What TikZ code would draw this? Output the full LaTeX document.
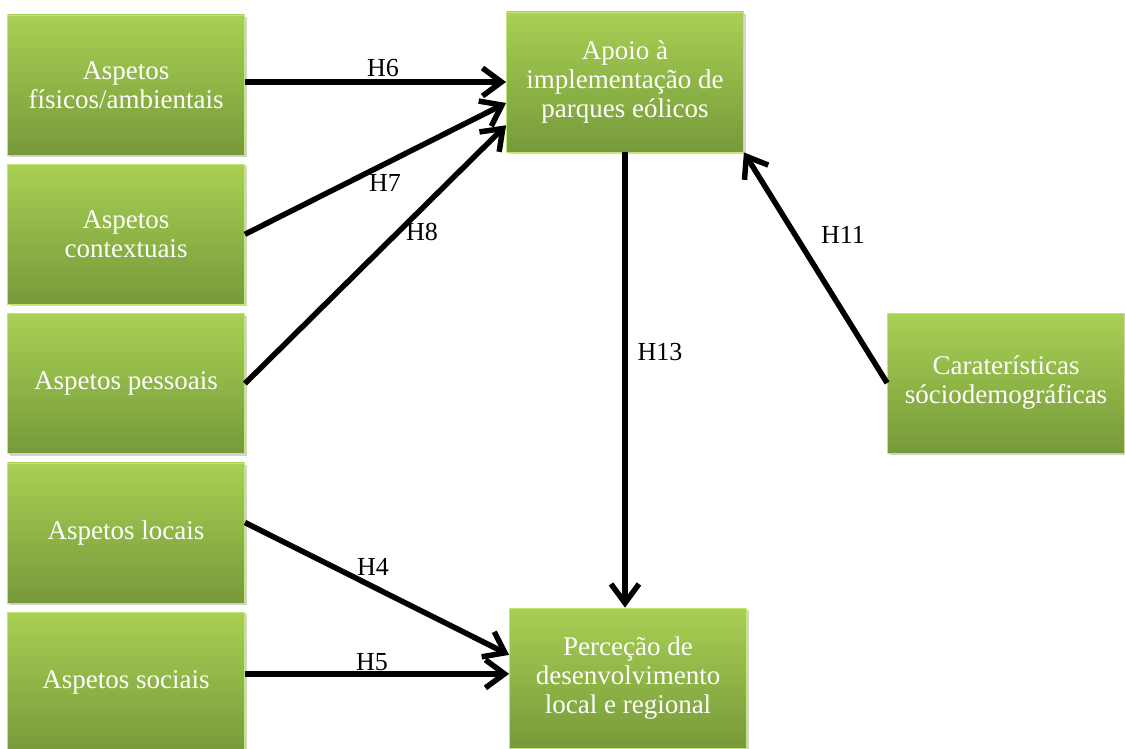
\documentclass[tikz,border=0pt]{standalone}
\usepackage{fontspec}
\setmainfont{Liberation Serif}
\usetikzlibrary{arrows.meta, shadows}
\usetikzlibrary{positioning}
\definecolor{boxtop}{RGB}{168,208,84}
\definecolor{boxbottom}{RGB}{118,154,58}
\definecolor{boxedge}{RGB}{196,228,120}
\tikzstyle{greenbox}=[rectangle, draw=boxedge, line width=0.8pt,
					top color=boxtop, bottom color=boxbottom, text=white,
					minimum width=237pt, minimum height=140pt, align=center,
					font=\fontsize{27}{29}\selectfont,
					drop shadow={shadow xshift=2pt, shadow yshift=-2pt, opacity=0.35}]

\begin{document}
\begin{tikzpicture}[x=1pt, y=-1pt,
 >={Straight Barb[length=19pt,width=28pt]},
 hyp/.style={->, line width=5.5pt},
 hlabel/.style={font=\fontsize{26}{28}\selectfont, inner sep=0pt}
 ]
 \useasboundingbox (0,0) rectangle (1125,749);

 %Nodes
 \node[greenbox]      (fisicos_node)  at (126,85) {Aspetos\\físicos/ambientais};
 \node[greenbox]      (contexto_node)   [below=8.5pt of fisicos_node] {Aspetos\\contextuais};
 \node[greenbox]      (pessoais_node)   [below=8.5pt of contexto_node] {Aspetos pessoais};
 \node[greenbox]      (locais_node)     [below=8.5pt of pessoais_node] {Aspetos locais};
 \node[greenbox]      (sociais_node)    [below=8.5pt of locais_node] {Aspetos sociais};

 \node[greenbox]      (apoio_node)    at (625,82) {Apoio à\\implementação de\\parques eólicos};
 \node[greenbox]      (percecao_node) at (628,678) {Perceção de\\desenvolvimento\\local e regional};
 \node[greenbox]      (carat_node)    at (1006,383) {Caraterísticas\\sóciodemográficas};

 %Lines
 \draw[hyp] (apoio_node.west -| fisicos_node.east) -- (apoio_node.west);
 \draw[hyp] (contexto_node.east) -- (apoio_node.190);
 \draw[hyp] (pessoais_node.east) -- (apoio_node.200);
 \draw[hyp] (carat_node.west) -- (apoio_node.south east);
 \draw[hyp] (apoio_node.south) -- (apoio_node.south |- percecao_node.north);
 \draw[hyp] (locais_node.5) -- (percecao_node.169);
 \draw[hyp] (percecao_node.178 -| sociais_node.east) -- (percecao_node.178);

 %Labels
 \node[hlabel] (h6_label)  at (383,68)  {H6};
 \node[hlabel] (h7_label)  at (385,183) {H7};
 \node[hlabel] (h8_label)  at (422,232) {H8};
 \node[hlabel] (h11_label) at (843,235) {H11};
 \node[hlabel] (h13_label) at (660,352) {H13};
 \node[hlabel] (h4_label)  at (373,567) {H4};
 \node[hlabel] (h5_label)  at (372,662) {H5};
\end{tikzpicture}
\end{document}
